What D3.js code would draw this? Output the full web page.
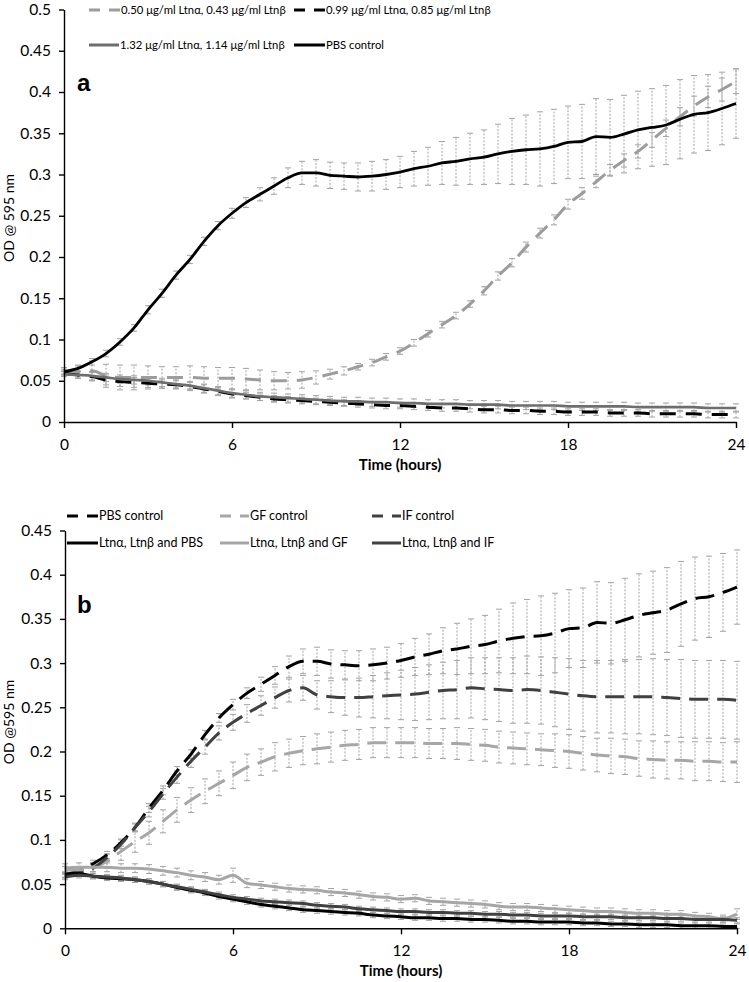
<!DOCTYPE html>
<html><head><meta charset="utf-8">
<script src="https://cdn.jsdelivr.net/npm/d3@7"></script>
<style>
body{margin:0;background:#fff}
svg text{font-family:Lato,"Open Sans",sans-serif;fill:#000}
</style>
</head><body>
<svg id="chart" width="749" height="982"></svg>
<script>
// ---------- data ----------
const hours = [0,0.5,1,1.5,2,2.5,3,3.5,4,4.5,5,5.5,6,6.5,7,7.5,8,8.5,9,9.5,10,10.5,11,11.5,12,12.5,13,13.5,14,14.5,15,15.5,16,16.5,17,17.5,18,18.5,19,19.5,20,20.5,21,21.5,22,22.5,23,23.5,24];
const xTicks = [0,6,12,18,24];
const yTicksA = [0,0.05,0.1,0.15,0.2,0.25,0.3,0.35,0.4,0.45,0.5];
const yTicksB = [0,0.05,0.1,0.15,0.2,0.25,0.3,0.35,0.4,0.45];

// PBS control (panel a solid black, panel b dashed black)
const pbsControl = [0.061,0.065,0.073,0.083,0.097,0.114,0.136,0.156,0.178,0.197,0.219,0.238,0.253,0.266,0.276,0.286,0.296,0.302,0.302,0.299,0.298,0.297,0.298,0.300,0.303,0.307,0.310,0.314,0.316,0.319,0.321,0.325,0.328,0.330,0.331,0.334,0.339,0.340,0.346,0.345,0.349,0.354,0.357,0.360,0.367,0.373,0.375,0.380,0.386];
const pbsControlErr = [0.003,0.003,0.004,0.004,0.004,0.004,0.005,0.005,0.005,0.005,0.005,0.005,0.006,0.006,0.008,0.010,0.012,0.014,0.016,0.016,0.016,0.017,0.018,0.018,0.019,0.021,0.023,0.026,0.029,0.031,0.033,0.036,0.040,0.042,0.045,0.045,0.044,0.045,0.046,0.046,0.047,0.047,0.047,0.048,0.048,0.047,0.046,0.044,0.042];

// panel a: Ltn doses
const dose050 = [0.062,0.061,0.062,0.056,0.054,0.054,0.054,0.054,0.054,0.054,0.053,0.053,0.053,0.052,0.051,0.050,0.050,0.051,0.054,0.058,0.062,0.067,0.072,0.079,0.086,0.096,0.107,0.118,0.129,0.143,0.159,0.177,0.193,0.212,0.229,0.245,0.264,0.277,0.291,0.305,0.317,0.328,0.342,0.356,0.370,0.383,0.394,0.403,0.413];
const dose050Err = [0.004,0.008,0.012,0.014,0.015,0.015,0.014,0.013,0.013,0.014,0.014,0.013,0.013,0.013,0.012,0.011,0.010,0.010,0.008,0.006,0.005,0.004,0.004,0.004,0.004,0.004,0.004,0.004,0.004,0.004,0.005,0.005,0.005,0.006,0.006,0.006,0.006,0.007,0.007,0.007,0.008,0.008,0.009,0.010,0.011,0.012,0.013,0.014,0.015];
const dose099 = [0.059,0.057,0.055,0.051,0.049,0.048,0.047,0.046,0.045,0.043,0.040,0.037,0.034,0.032,0.030,0.028,0.027,0.026,0.025,0.024,0.023,0.022,0.021,0.020,0.020,0.019,0.018,0.017,0.017,0.016,0.015,0.015,0.014,0.014,0.013,0.013,0.012,0.012,0.012,0.011,0.011,0.011,0.010,0.010,0.010,0.010,0.009,0.009,0.009];
const dose099Err = [0.003,0.004,0.005,0.006,0.006,0.006,0.005,0.005,0.005,0.005,0.005,0.005,0.005,0.004,0.004,0.004,0.004,0.004,0.004,0.004,0.004,0.004,0.004,0.004,0.004,0.004,0.004,0.004,0.004,0.004,0.004,0.004,0.004,0.004,0.004,0.004,0.004,0.004,0.004,0.004,0.004,0.004,0.004,0.004,0.004,0.004,0.004,0.004,0.004];
const dose132 = [0.058,0.057,0.056,0.054,0.052,0.051,0.050,0.048,0.046,0.044,0.041,0.038,0.035,0.033,0.031,0.030,0.029,0.028,0.027,0.026,0.025,0.025,0.024,0.024,0.023,0.023,0.022,0.022,0.022,0.021,0.021,0.021,0.020,0.020,0.020,0.020,0.019,0.019,0.019,0.019,0.019,0.018,0.018,0.018,0.018,0.018,0.017,0.017,0.017];
const dose132Err = [0.003,0.004,0.005,0.005,0.005,0.005,0.005,0.005,0.005,0.005,0.005,0.005,0.005,0.005,0.005,0.005,0.005,0.005,0.005,0.005,0.005,0.005,0.005,0.005,0.005,0.005,0.005,0.005,0.005,0.005,0.005,0.005,0.005,0.005,0.005,0.005,0.005,0.005,0.005,0.005,0.005,0.005,0.005,0.005,0.005,0.005,0.005,0.005,0.005];

// panel b: controls and Ltn treatments
const gfControl = [0.066,0.066,0.068,0.076,0.087,0.098,0.108,0.121,0.134,0.145,0.155,0.164,0.173,0.182,0.188,0.194,0.198,0.201,0.203,0.205,0.207,0.208,0.210,0.210,0.210,0.210,0.209,0.209,0.209,0.208,0.207,0.205,0.204,0.203,0.202,0.201,0.200,0.198,0.196,0.195,0.194,0.192,0.191,0.190,0.190,0.189,0.189,0.188,0.188];
const gfControlErr = [0.004,0.004,0.006,0.008,0.010,0.012,0.013,0.013,0.014,0.014,0.014,0.014,0.015,0.015,0.015,0.016,0.016,0.016,0.017,0.017,0.017,0.017,0.017,0.017,0.017,0.017,0.017,0.017,0.018,0.018,0.018,0.018,0.018,0.018,0.018,0.019,0.019,0.019,0.019,0.020,0.020,0.020,0.021,0.021,0.021,0.022,0.022,0.022,0.023];
const ifControl = [0.060,0.062,0.068,0.080,0.095,0.114,0.132,0.152,0.171,0.189,0.205,0.221,0.233,0.243,0.252,0.261,0.269,0.272,0.264,0.262,0.261,0.261,0.262,0.263,0.264,0.265,0.267,0.269,0.270,0.272,0.271,0.270,0.269,0.270,0.269,0.267,0.265,0.263,0.262,0.262,0.262,0.262,0.262,0.261,0.260,0.259,0.259,0.259,0.258];
const ifControlErr = [0.003,0.003,0.004,0.004,0.005,0.005,0.006,0.006,0.007,0.007,0.008,0.008,0.009,0.010,0.011,0.012,0.013,0.014,0.016,0.018,0.020,0.022,0.024,0.026,0.028,0.030,0.031,0.032,0.033,0.034,0.035,0.036,0.037,0.038,0.038,0.039,0.040,0.040,0.041,0.041,0.042,0.042,0.043,0.043,0.044,0.044,0.044,0.044,0.044];
const ltnPbs = [0.060,0.062,0.059,0.057,0.056,0.055,0.053,0.050,0.046,0.043,0.040,0.036,0.033,0.030,0.027,0.025,0.023,0.021,0.020,0.019,0.018,0.017,0.015,0.014,0.013,0.012,0.012,0.011,0.011,0.010,0.010,0.009,0.008,0.008,0.007,0.007,0.007,0.006,0.006,0.005,0.005,0.004,0.004,0.004,0.003,0.003,0.003,0.002,0.002];
const ltnPbsErr = [0.003,0.003,0.003,0.003,0.003,0.003,0.003,0.003,0.003,0.003,0.003,0.003,0.003,0.003,0.003,0.003,0.003,0.003,0.003,0.003,0.003,0.003,0.003,0.003,0.003,0.003,0.003,0.003,0.003,0.003,0.003,0.003,0.003,0.003,0.003,0.003,0.003,0.003,0.003,0.003,0.003,0.003,0.003,0.003,0.003,0.003,0.003,0.003,0.003];
const ltnGf = [0.068,0.069,0.069,0.069,0.068,0.068,0.067,0.065,0.063,0.060,0.058,0.055,0.060,0.051,0.049,0.047,0.045,0.044,0.043,0.041,0.040,0.038,0.036,0.035,0.033,0.034,0.031,0.030,0.029,0.028,0.027,0.025,0.024,0.024,0.023,0.022,0.021,0.020,0.019,0.019,0.018,0.017,0.017,0.016,0.016,0.014,0.013,0.011,0.016];
const ltnGfErr = [0.005,0.005,0.005,0.005,0.005,0.005,0.005,0.005,0.005,0.005,0.005,0.005,0.008,0.005,0.004,0.004,0.004,0.004,0.004,0.004,0.004,0.004,0.004,0.004,0.004,0.004,0.004,0.004,0.004,0.004,0.004,0.004,0.004,0.004,0.004,0.004,0.004,0.004,0.004,0.004,0.004,0.004,0.004,0.004,0.004,0.004,0.004,0.004,0.006];
const ltnIf = [0.058,0.060,0.059,0.058,0.057,0.055,0.053,0.050,0.047,0.044,0.041,0.038,0.035,0.033,0.031,0.030,0.029,0.028,0.026,0.025,0.024,0.022,0.021,0.020,0.019,0.019,0.018,0.018,0.017,0.017,0.016,0.016,0.015,0.015,0.014,0.014,0.014,0.013,0.013,0.013,0.012,0.012,0.012,0.011,0.011,0.010,0.010,0.010,0.009];
const ltnIfErr = [0.003,0.003,0.003,0.003,0.003,0.003,0.003,0.003,0.003,0.003,0.003,0.003,0.003,0.003,0.003,0.003,0.003,0.003,0.003,0.003,0.003,0.003,0.003,0.003,0.003,0.003,0.003,0.003,0.003,0.003,0.003,0.003,0.003,0.003,0.003,0.003,0.003,0.003,0.003,0.003,0.003,0.003,0.003,0.003,0.003,0.003,0.003,0.003,0.003];

const legendA = ["0.50 μg/ml Ltnα, 0.43 μg/ml Ltnβ","0.99 μg/ml Ltnα, 0.85 μg/ml Ltnβ","1.32 μg/ml Ltnα, 1.14 μg/ml Ltnβ","PBS control"];
const legendB = ["PBS control","GF control","IF control","Ltnα, Ltnβ and PBS","Ltnα, Ltnβ and GF","Ltnα, Ltnβ and IF"];

// ---------- drawing ----------
const svg = d3.select("#chart");

function drawPanel(o) {
  const g = svg.append("g");
  const x = d3.scaleLinear().domain([0,24]).range([o.left,o.right]);
  const y = d3.scaleLinear().domain([0,o.yMax]).range([o.bottom,o.top]);

  // error bars
  o.series.forEach(s => {
    const eb = g.append("g").attr("stroke","#a3a3a3").attr("stroke-width",1).attr("fill","none");
    hours.forEach((t,i) => {
      const cx = x(t), lo = y(Math.max(0,s.values[i]-s.err[i])), hi = y(s.values[i]+s.err[i]);
      eb.append("line").attr("x1",cx).attr("x2",cx).attr("y1",lo).attr("y2",hi).attr("stroke-dasharray","2,1.5");
      eb.append("line").attr("x1",cx-3).attr("x2",cx+3).attr("y1",lo).attr("y2",lo);
      eb.append("line").attr("x1",cx-3).attr("x2",cx+3).attr("y1",hi).attr("y2",hi);
    });
  });

  const line = d3.line().x((d,i)=>x(hours[i])).y(d=>y(d)).curve(d3.curveMonotoneX);
  o.series.forEach(s => {
    g.append("path").attr("d",line(s.values)).attr("fill","none")
      .attr("stroke",s.color).attr("stroke-width",s.width)
      .attr("stroke-dasharray",s.dashed?o.dash:null);
  });

  // axes
  const ya = d3.axisLeft(y).tickValues(o.yTicks).tickFormat(d=>String(d)).tickSize(5).tickSizeOuter(0).tickPadding(8);
  const yg = g.append("g").attr("transform",`translate(${o.left},0)`).call(ya);
  const xa = d3.axisBottom(x).tickValues(xTicks).tickFormat(d=>String(d)).tickSize(6).tickSizeOuter(0).tickPadding(11);
  const xg = g.append("g").attr("transform",`translate(0,${o.bottom})`).call(xa);
  [yg,xg].forEach(a=>{
    a.selectAll("path,line").attr("stroke","#000").attr("stroke-width",1.4);
    a.selectAll("text").style("font-family","Lato").style("font-size","15.5px").attr("fill","#000");
  });

  // titles
  g.append("text").attr("x",(o.left+o.right)/2).attr("y",o.bottom+48)
    .attr("text-anchor","middle").style("font-size","15px").style("font-weight","bold").text("Time (hours)");
  g.append("text").attr("transform",`translate(${o.yLabelX},${o.yLabelY}) rotate(-90)`)
    .attr("text-anchor","middle").style("font-size","14px").text(o.yLabel);
  g.append("text").attr("x",o.letterX).attr("y",o.letterY)
    .style("font-family","'Liberation Sans',Arial,sans-serif").style("font-weight","bold").style("font-size","24px").text(o.letter);

  // legend
  o.legend.forEach(it => {
    const s = o.series[it.idx];
    g.append("line").attr("x1",it.lx).attr("x2",it.lx+it.len).attr("y1",it.ly).attr("y2",it.ly)
      .attr("stroke",s.color).attr("stroke-width",3).attr("stroke-dasharray",s.dashed?"11,9":null);
    g.append("text").attr("x",it.lx+it.len+1).attr("y",it.ly).attr("dy","0.35em")
      .style("font-size",o.legendFont).text(it.label);
  });
}

drawPanel({
  left:64,right:736,top:9.5,bottom:422,yMax:0.5,yTicks:yTicksA,dash:"16,10",legendFont:"11.3px",
  yLabel:"OD @ 595 nm",yLabelX:14,yLabelY:218,letter:"a",letterX:77,letterY:91,
  series:[
    {values:dose050,err:dose050Err,color:"#9c9c9c",dashed:true,width:3},
    {values:dose099,err:dose099Err,color:"#000000",dashed:true,width:3},
    {values:dose132,err:dose132Err,color:"#6e6e6e",dashed:false,width:2.7},
    {values:pbsControl,err:pbsControlErr,color:"#000000",dashed:false,width:2.8}
  ],
  legend:[
    {idx:0,lx:89,ly:10,len:31,label:legendA[0]},
    {idx:1,lx:294,ly:10,len:31,label:legendA[1]},
    {idx:2,lx:89,ly:45,len:30,label:legendA[2]},
    {idx:3,lx:294,ly:45,len:31,label:legendA[3]}
  ]
});

drawPanel({
  left:65,right:737,top:530.5,bottom:928.3,yMax:0.45,yTicks:yTicksB,dash:"19,9",legendFont:"12.5px",
  yLabel:"OD @595 nm",yLabelX:14,yLabelY:722,letter:"b",letterX:77,letterY:613,
  series:[
    {values:pbsControl,err:pbsControlErr,color:"#000000",dashed:true,width:3},
    {values:gfControl,err:gfControlErr,color:"#a6a6a6",dashed:true,width:3},
    {values:ifControl,err:ifControlErr,color:"#404040",dashed:true,width:3},
    {values:ltnPbs,err:ltnPbsErr,color:"#000000",dashed:false,width:3},
    {values:ltnGf,err:ltnGfErr,color:"#a6a6a6",dashed:false,width:3},
    {values:ltnIf,err:ltnIfErr,color:"#404040",dashed:false,width:3}
  ],
  legend:[
    {idx:0,lx:67,ly:516,len:31,label:legendB[0]},
    {idx:1,lx:220,ly:516,len:29,label:legendB[1]},
    {idx:2,lx:372,ly:516,len:29,label:legendB[2]},
    {idx:3,lx:67,ly:543,len:31,label:legendB[3]},
    {idx:4,lx:220,ly:543,len:29,label:legendB[4]},
    {idx:5,lx:372,ly:543,len:29,label:legendB[5]}
  ]
});
</script>
</body></html>
